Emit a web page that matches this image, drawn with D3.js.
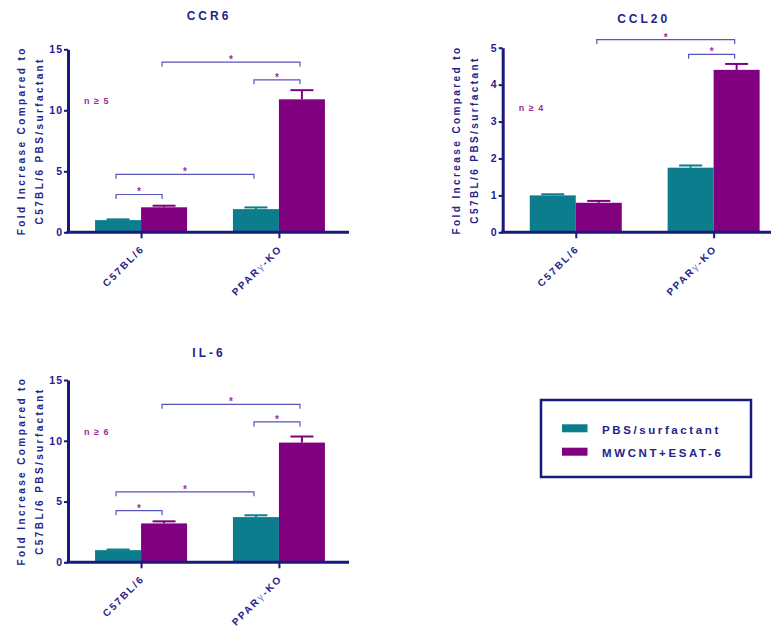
<!DOCTYPE html>
<html><head><meta charset="utf-8">
<script src="https://cdn.jsdelivr.net/npm/d3@7"></script>
<style>
body{margin:0;background:#fff}
svg{display:block;font-family:"Liberation Sans",Arial,sans-serif;font-weight:bold}
</style></head><body>
<svg id="chart" width="771" height="637"></svg>
<script>
// Shared categories and series
const groups = ["C57BL/6", "PPARγ-KO"];
const seriesNames = ["PBS/surfactant", "MWCNT+ESAT-6"];
const seriesColors = ["#0b7d8d", "#800080"];

// CCR6
const ccr6Pbs = [1.0, 1.9];
const ccr6PbsErr = [0.06, 0.14];
const ccr6Esat = [2.05, 10.9];
const ccr6EsatErr = [0.13, 0.75];
const ccr6Ticks = [0, 5, 10, 15];
// significance brackets: [group, series] to [group, series] at a bracket level (data units)
const ccr6Brackets = [
  { a: [0, 0], b: [0, 1], level: 3.1 },
  { a: [0, 0], b: [1, 0], level: 4.75 },
  { a: [1, 0], b: [1, 1], level: 12.5 },
  { a: [0, 1], b: [1, 1], level: 13.95 }
];

// CCL20
const ccl20Pbs = [1.0, 1.75];
const ccl20PbsErr = [0.03, 0.06];
const ccl20Esat = [0.8, 4.4];
const ccl20EsatErr = [0.05, 0.16];
const ccl20Ticks = [0, 1, 2, 3, 4, 5];
const ccl20Brackets = [
  { a: [0, 1], b: [1, 1], level: 5.22 },
  { a: [1, 0], b: [1, 1], level: 4.82 }
];

// IL-6
const il6Pbs = [1.0, 3.72];
const il6PbsErr = [0.05, 0.15];
const il6Esat = [3.2, 9.85];
const il6EsatErr = [0.17, 0.5];
const il6Ticks = [0, 5, 10, 15];
const il6Brackets = [
  { a: [0, 0], b: [0, 1], level: 4.25 },
  { a: [0, 0], b: [1, 0], level: 5.8 },
  { a: [1, 0], b: [1, 1], level: 11.55 },
  { a: [0, 1], b: [1, 1], level: 13.0 }
];

const navy = "#1a1a7c";
const textNavy = "#23238a";
const bracketBlue = "#5555bb";
const starPurple = "#9b2d9b";

const svg = d3.select("#chart");

function drawPanel(p) {
  const g = svg.append("g");
  const y = d3.scaleLinear().domain([0, p.yMax]).range([p.bottom, p.top]);
  const x = d3.scalePoint().domain(groups).range([p.left, p.left + 284]).padding(0.53);
  const xs = d3.scaleBand().domain(seriesNames).range([-46, 46]);
  const bw = xs.bandwidth();

  const rows = [];
  groups.forEach((grp, gi) => {
    seriesNames.forEach((s, si) => {
      rows.push({ grp, s, si, mean: p.means[si][gi], err: p.errs[si][gi] });
    });
  });

  // error bars (upward only, same colour as the bar)
  const eb = g.append("g");
  rows.forEach(d => {
    const cx = x(d.grp) + xs(d.s) + bw / 2;
    eb.append("line").attr("x1", cx).attr("x2", cx)
      .attr("y1", y(d.mean)).attr("y2", y(d.mean + d.err))
      .attr("stroke", seriesColors[d.si]).attr("stroke-width", 2);
    eb.append("line").attr("x1", cx - bw / 4).attr("x2", cx + bw / 4)
      .attr("y1", y(d.mean + d.err)).attr("y2", y(d.mean + d.err))
      .attr("stroke", seriesColors[d.si]).attr("stroke-width", 2);
  });

  // bars
  g.append("g").selectAll("rect").data(rows).join("rect")
    .attr("x", d => x(d.grp) + xs(d.s))
    .attr("width", bw)
    .attr("y", d => y(d.mean))
    .attr("height", d => y(0) - y(d.mean))
    .attr("fill", d => seriesColors[d.si]);

  // y axis
  const ya = g.append("g").attr("transform", `translate(${p.left},0)`)
    .call(d3.axisLeft(y).tickValues(p.ticks).tickFormat(d3.format("d"))
      .tickSize(4).tickSizeOuter(0).tickPadding(1));
  ya.select(".domain").attr("stroke", navy).attr("stroke-width", 3);
  ya.selectAll(".tick line").attr("stroke", navy).attr("stroke-width", 2);
  ya.selectAll(".tick text").attr("fill", textNavy)
    .style("font-size", "10.5px").style("font-weight", "bold")
    .style("font-family", '"Liberation Sans",Arial,sans-serif')
    .style("letter-spacing", "1px");

  // x axis
  const xa = g.append("g").attr("transform", `translate(0,${p.bottom})`)
    .call(d3.axisBottom(x).tickSize(6).tickSizeOuter(0).tickFormat(""));
  xa.select(".domain").remove();
  xa.selectAll(".tick line").attr("stroke", navy).attr("stroke-width", 2);
  g.append("line").attr("x1", p.left - 1.5).attr("x2", p.left + 281)
    .attr("y1", p.bottom).attr("y2", p.bottom)
    .attr("stroke", navy).attr("stroke-width", 3);

  // rotated category labels
  groups.forEach(grp => {
    const t = g.append("text")
      .attr("transform", `translate(${x(grp) + 4},${p.bottom + 17}) rotate(-45)`)
      .attr("text-anchor", "end").attr("fill", textNavy)
      .style("font-size", "10px").style("letter-spacing", "2px");
    const idx = grp.indexOf("γ");
    if (idx >= 0) {
      t.append("tspan").text(grp.slice(0, idx));
      t.append("tspan").text("γ").attr("fill", "#7a7ad0").style("font-weight", "normal");
      t.append("tspan").text(grp.slice(idx + 1));
    } else {
      t.text(grp);
    }
  });

  // y axis title
  const midY = (p.top + p.bottom) / 2;
  [["Fold Increase Compared to", -43], ["C57BL/6 PBS/surfactant", -25]].forEach(([txt, off]) => {
    g.append("text")
      .attr("transform", `translate(${p.left + off},${midY}) rotate(-90)`)
      .attr("text-anchor", "middle").attr("fill", textNavy)
      .style("font-size", "10px").style("letter-spacing", "2.4px")
      .text(txt);
  });

  // panel title
  g.append("text").attr("x", p.left + 141).attr("y", p.titleY)
    .attr("text-anchor", "middle").attr("fill", textNavy)
    .style("font-size", "12px").style("letter-spacing", "3px")
    .text(p.title);

  // sample size note
  g.append("text").attr("x", p.left + 16).attr("y", y(p.nLevel))
    .attr("fill", starPurple)
    .style("font-size", "9px").style("letter-spacing", "1px")
    .text(p.nLabel);

  // significance brackets
  const bx = ([gi, si]) => x(groups[gi]) + xs(seriesNames[si]) + bw / 2 - 2;
  p.brackets.forEach(b => {
    const x1 = bx(b.a), x2 = bx(b.b), yb = y(b.level);
    g.append("path")
      .attr("d", `M${x1},${yb + 4.5}V${yb}H${x2}V${yb + 4.5}`)
      .attr("fill", "none").attr("stroke", bracketBlue).attr("stroke-width", 1.2);
    g.append("text").attr("x", (x1 + x2) / 2).attr("y", yb + 1)
      .attr("text-anchor", "middle").attr("fill", starPurple)
      .style("font-size", "10px").text("*");
  });
}

drawPanel({
  left: 68, top: 49.3, bottom: 232.3, yMax: 15, ticks: ccr6Ticks,
  means: [ccr6Pbs, ccr6Esat], errs: [ccr6PbsErr, ccr6EsatErr],
  brackets: ccr6Brackets, title: "CCR6", titleY: 20, nLabel: "n ≥ 5", nLevel: 10.5
});
drawPanel({
  left: 502.7, top: 47.7, bottom: 232.3, yMax: 5, ticks: ccl20Ticks,
  means: [ccl20Pbs, ccl20Esat], errs: [ccl20PbsErr, ccl20EsatErr],
  brackets: ccl20Brackets, title: "CCL20", titleY: 23, nLabel: "n ≥ 4", nLevel: 3.29
});
drawPanel({
  left: 68, top: 380, bottom: 562.3, yMax: 15, ticks: il6Ticks,
  means: [il6Pbs, il6Esat], errs: [il6PbsErr, il6EsatErr],
  brackets: il6Brackets, title: "IL-6", titleY: 357, nLabel: "n ≥ 6", nLevel: 10.5
});

// legend
const legend = svg.append("g");
legend.append("rect").attr("x", 541).attr("y", 400).attr("width", 210).attr("height", 77)
  .attr("fill", "none").attr("stroke", navy).attr("stroke-width", 2.5);
seriesNames.forEach((s, i) => {
  legend.append("rect").attr("x", 562).attr("y", 424.3 + i * 23.4)
    .attr("width", 25.5).attr("height", 8).attr("fill", seriesColors[i]);
  legend.append("text").attr("x", 602).attr("y", 433.5 + i * 23.4)
    .attr("fill", textNavy).style("font-size", "11.5px").style("letter-spacing", "2.6px")
    .text(s);
});
</script>
</body></html>
